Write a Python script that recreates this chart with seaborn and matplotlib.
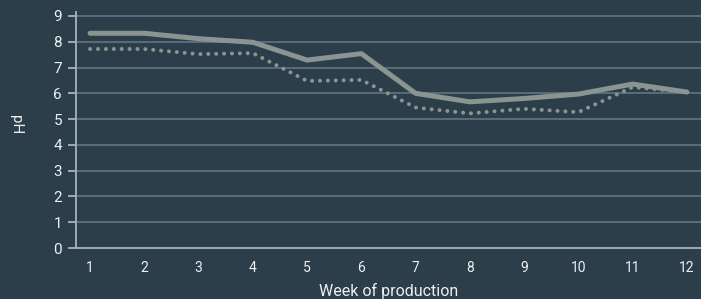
import matplotlib
matplotlib.use("Agg")
import matplotlib.pyplot as plt
import seaborn as sns
import pandas as pd

weeks = [1, 2, 3, 4, 5, 6, 7, 8, 9, 10, 11, 12]
ph_solid = [8.33, 8.33, 8.12, 7.98, 7.29, 7.54, 6.0, 5.67, 5.8, 5.97, 6.36, 6.05]
ph_dotted = [7.72, 7.72, 7.52, 7.56, 6.48, 6.52, 5.45, 5.22, 5.4, 5.27, 6.24, 6.05]
y_ticks = [0, 1, 2, 3, 4, 5, 6, 7, 8, 9]

BG = "#2c3e4a"
LINE = "#8a9591"
GRID = "#627580"
SPINE = "#a7b4ba"
TEXT = "#eef0f0"

sns.set_theme(style="white")
plt.rcParams["font.family"] = ["Roboto", "DejaVu Sans"]

df = pd.DataFrame({"week": weeks, "solid": ph_solid, "dotted": ph_dotted})

fig = plt.figure(figsize=(7.01, 2.99), dpi=100, facecolor=BG)
ax = fig.add_axes([76 / 701, 1 - 248 / 299, 1 - 76 / 701, (248 - 12) / 299])
ax.set_facecolor(BG)

sns.lineplot(data=df, x="week", y="solid", ax=ax, color=LINE, linewidth=3.6,
             solid_capstyle="round", solid_joinstyle="round", zorder=3)
sns.lineplot(data=df, x="week", y="dotted", ax=ax, color=LINE, linewidth=2.9,
             linestyle=(0, (0.01, 1.95)), dash_capstyle="round", zorder=3)

ax.set_xlim(0.74, 12.26)
ax.set_ylim(0, 9.155)
ax.set_xticks(weeks)
ax.set_yticks(y_ticks)
for v in y_ticks[1:]:
    ax.axhline(v, color=GRID, linewidth=1.2, zorder=1)

for s in ["top", "right"]:
    ax.spines[s].set_visible(False)
for s in ["left", "bottom"]:
    ax.spines[s].set_color(SPINE)
    ax.spines[s].set_linewidth(1.3)

ax.tick_params(axis="y", colors=SPINE, length=6, width=1.3, labelcolor=TEXT, labelsize=11, pad=4, left=True)
ax.tick_params(axis="x", length=0, labelcolor=TEXT, labelsize=10, pad=9, bottom=False)

ax.set_xlabel("Week of production", color=TEXT, fontsize=11.5, labelpad=6)
ax.set_ylabel("")
fig.text(16 / 701, 1 - 125 / 299, "pH", rotation=270, color=TEXT, fontsize=11,
         ha="center", va="center")

fig.savefig("out.png", dpi=100, facecolor=BG)
